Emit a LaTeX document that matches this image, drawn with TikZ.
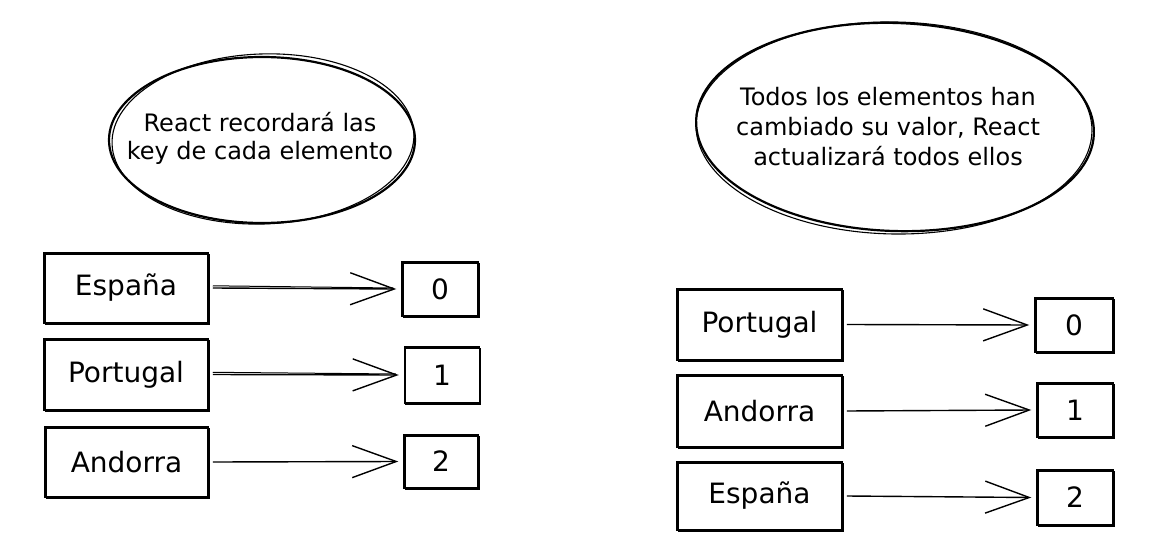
\documentclass[tikz,border=0pt]{standalone}
\usepackage{fontspec}
\setmainfont{DejaVu Sans}
\usetikzlibrary{arrows.meta}
\tikzset{
  px/.style={x={(1pt,0)},y={(0,-1pt)}},
  lab/.style={draw, line width=1.5pt, inner sep=0pt, font=\fontsize{28}{32}\selectfont,
     postaction={draw, line width=0.8pt, transform canvas={shift={(1.2pt,-1.3pt)}}}},
  val/.style={lab},
  bubtext/.style={align=center, font=\fontsize{24}{28}\selectfont, inner sep=0pt},
  sk/.style={line width=2.2pt, line cap=round},
  skthin/.style={line width=1.1pt, line cap=round},
  arr/.style={line width=1.4pt, -{Straight Barb[length=44pt,width=32pt,line width=1.4pt]}},
}
\begin{document}
\begin{tikzpicture}[px]
\useasboundingbox[fill=white] (0,0) rectangle (1166,545);

% ---------- left bubble ----------
\draw[sk] (262,140) ellipse [x radius=153pt, y radius=83pt];
\draw[skthin, rotate around={2:(262,140)}] (263,139) ellipse [x radius=151pt, y radius=85pt];
\node[bubtext] (t1) at (260,138) {React recordará las\\key de cada elemento};

% ---------- left list ----------
\node[lab, minimum width=164pt, minimum height=70pt] (l1) at (126,288) {España};
\node[lab, minimum width=164pt, minimum height=71pt] (l2) at (126,374.5) {Portugal};
\node[lab, minimum width=163pt, minimum height=70pt] (l3) at (126.5,462) {Andorra};

\node[val, minimum width=76pt, minimum height=54pt] (lv0) at (440,289) {0};
\node[val, minimum width=75pt, minimum height=56pt] (lv1) at (442,375) {1};
\node[val, minimum width=74pt, minimum height=53pt] (lv2) at (441,461.5) {2};

\draw[arr] ([xshift=4pt]l1.east) -- ([xshift=-5pt]lv0.west);
\draw[line width=1pt] ([xshift=4pt,yshift=2.2pt]l1.east) -- ([xshift=-8pt,yshift=1pt]lv0.west);
\draw[arr] ([xshift=4pt]l2.east) -- ([xshift=-5pt]lv1.west);
\draw[line width=1pt] ([xshift=4pt,yshift=2.2pt]l2.east) -- ([xshift=-8pt,yshift=1pt]lv1.west);
\draw[arr] ([xshift=4pt]l3.east) -- ([xshift=-5pt]lv2.west);

% ---------- right bubble ----------
\draw[sk, rotate around={-2:(895,127)}] (895,127) ellipse [x radius=199pt, y radius=104pt];
\draw[skthin, rotate around={-1:(895,127)}] (894,128) ellipse [x radius=198pt, y radius=106pt];
\node[bubtext, font=\fontsize{24}{30}\selectfont] (t2) at (888,127) {Todos los elementos han\\cambiado su valor, React\\actualizará todos ellos};

% ---------- right list ----------
\node[lab, minimum width=165pt, minimum height=71pt] (r1) at (759.5,324.5) {Portugal};
\node[lab, minimum width=165pt, minimum height=72pt] (r2) at (759.5,411) {Andorra};
\node[lab, minimum width=165pt, minimum height=68pt] (r3) at (759.5,496) {España};

\node[val, minimum width=78pt, minimum height=54pt] (rv0) at (1074,325) {0};
\node[val, minimum width=76pt, minimum height=54pt] (rv1) at (1075,410) {1};
\node[val, minimum width=76pt, minimum height=55pt] (rv2) at (1075,497.5) {2};

\draw[arr] ([xshift=4pt]r1.east) -- ([xshift=-5pt]rv0.west);
\draw[arr] ([xshift=4pt]r2.east) -- ([xshift=-5pt]rv1.west);
\draw[arr] ([xshift=4pt]r3.east) -- ([xshift=-5pt]rv2.west);
\end{tikzpicture}
\end{document}
